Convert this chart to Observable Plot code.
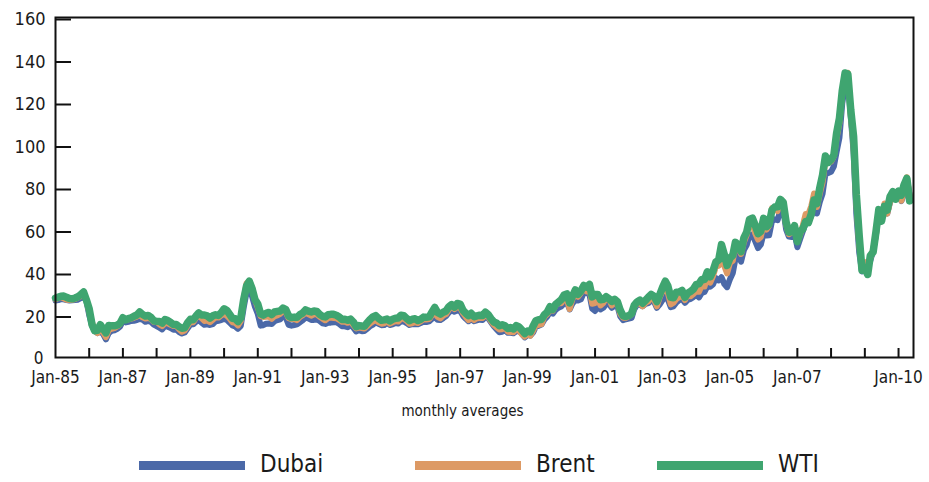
<!DOCTYPE html>
<html>
<head>
<meta charset="utf-8">
<script src="https://cdn.jsdelivr.net/npm/d3@7"></script>
<script src="https://cdn.jsdelivr.net/npm/@observablehq/plot@0.6"></script>
<style>
  html, body { margin: 0; padding: 0; background: #fff; }
  body { width: 929px; height: 482px; overflow: hidden; font-family: "DejaVu Sans Condensed", "DejaVu Sans", sans-serif; font-stretch: condensed; }
  #legend { position: relative; width: 929px; height: 42px; }
  .sw { position: absolute; top: 21px; height: 9px; width: 106px; }
  .lb { position: absolute; top: 9px; font-size: 24px; color: #1a1a1a; line-height: 30px; }
</style>
</head>
<body>
<div id="chart"></div>
<div id="legend"></div>
<script>
// ---- data: monthly averages, US$/bbl, Jan 1985 .. May 2010 ----
const startYear = 1985;
const seriesNames = ["Dubai", "Brent", "WTI"];
const seriesColors = ["#4b69a8", "#dd9a65", "#3fa570"];

const dubai = [
  26.8,27.0,27.4,27.4,27.0,26.8,26.9,27.0,27.2,27.9,28.4,26.8,
  20.0,15.0,12.5,11.5,12.5,11.0,8.5,11.5,12.5,12.8,13.5,14.5,
  17.2,16.5,16.8,17.2,17.3,17.6,18.2,17.8,16.8,17.2,16.8,15.5,
  14.8,14.0,13.2,14.9,14.5,13.9,13.1,13.2,12.0,11.3,11.8,13.6,
  15.5,15.6,16.8,17.6,16.4,15.4,15.6,15.3,15.7,17.0,17.3,17.6,
  18.2,17.6,16.5,15.1,14.6,13.5,14.9,23.4,30.5,32.6,28.6,23.9,
  20.5,15.0,15.2,15.9,16.0,15.8,17.0,17.6,18.0,19.6,18.7,15.4,
  15.0,15.3,15.6,16.6,17.5,18.8,18.4,17.7,17.7,17.9,17.2,16.1,
  15.8,16.4,16.4,16.6,16.6,15.8,14.7,14.7,14.3,15.4,14.0,12.3,
  12.8,12.4,12.5,13.6,14.7,15.5,16.5,15.9,15.2,15.3,16.3,15.3,
  15.6,16.2,16.0,17.0,17.0,16.2,15.3,15.7,15.8,15.6,16.2,16.8,
  16.7,17.0,18.2,19.0,17.8,17.6,18.5,19.5,21.2,22.3,21.5,22.3,
  21.9,19.6,18.3,17.1,18.0,17.1,17.5,17.8,17.7,19.1,18.5,16.6,
  14.7,13.2,11.9,12.1,12.9,11.6,11.6,11.4,12.3,12.5,11.1,9.5,
  10.6,10.3,11.7,14.6,14.9,15.5,17.8,19.2,21.3,20.6,22.5,23.4,
  24.0,25.4,26.2,22.6,25.4,27.0,26.8,27.4,30.6,30.4,29.8,23.0,
  21.9,24.0,22.6,23.4,25.2,25.2,23.4,24.3,24.0,19.3,17.6,18.0,
  18.3,18.7,22.6,24.9,24.8,24.1,25.2,25.6,26.7,26.4,23.4,24.9,
  27.0,28.6,27.3,23.7,24.1,25.9,27.0,27.6,25.7,27.1,27.6,28.4,
  29.4,28.3,30.4,30.9,33.5,33.3,34.4,37.4,36.3,37.8,34.6,33.1,
  36.8,39.8,46.4,48.1,45.1,50.5,52.9,57.6,57.9,54.8,51.5,53.1,
  58.6,57.4,57.5,64.2,65.0,64.6,69.4,69.7,60.3,56.9,56.7,58.6,
  51.9,55.9,59.4,63.2,64.6,66.6,70.0,67.8,73.2,77.0,86.4,86.8,
  87.4,90.0,96.7,103.4,119.5,128.0,131.2,113.4,96.8,67.4,49.5,40.5,
  43.9,43.1,45.6,50.1,57.5,68.8,65.0,71.5,67.8,73.2,77.7,75.5,
  76.6,73.6,77.1,84.0,76.4
];

const brent = [
  27.4,28.0,28.4,27.8,27.2,27.0,27.2,27.5,28.2,28.8,29.7,27.2,
  21.5,16.5,12.9,11.5,13.9,11.7,9.6,12.9,13.5,13.8,14.6,15.8,
  18.6,17.7,17.9,18.3,18.7,19.2,19.9,18.9,18.3,18.7,18.1,16.8,
  16.8,15.6,14.8,16.2,16.1,15.4,14.8,14.9,13.3,12.1,12.7,14.8,
  16.9,16.6,18.5,20.3,18.5,17.2,17.4,16.6,17.8,18.9,18.8,19.8,
  20.6,19.6,18.4,16.6,16.3,15.1,17.2,27.2,34.9,36.0,32.7,27.2,
  23.6,19.5,19.1,19.2,19.2,18.2,19.4,19.8,20.5,22.1,21.2,18.5,
  18.1,18.0,17.6,19.1,19.9,21.1,20.4,19.7,20.3,20.3,19.2,18.3,
  17.5,18.5,18.8,18.6,18.5,17.7,16.8,16.8,16.3,16.9,15.3,13.7,
  14.1,13.9,13.6,14.8,16.0,16.9,17.6,16.6,15.9,16.1,17.4,15.9,
  16.6,17.1,16.9,18.3,18.2,17.3,15.9,16.1,16.6,16.2,17.1,18.0,
  17.9,18.1,19.9,21.1,19.1,18.4,19.7,20.4,22.6,24.2,22.8,23.8,
  23.5,20.8,19.2,17.6,18.6,17.6,18.5,18.6,18.6,20.1,19.1,17.1,
  15.3,14.2,13.2,13.3,14.3,12.1,12.0,11.9,13.4,12.6,10.9,9.8,
  11.1,10.3,12.5,15.3,15.3,15.7,19.1,20.3,22.5,22.0,24.6,25.5,
  25.5,27.8,27.5,22.8,27.6,29.8,28.6,30.4,32.9,31.1,32.6,25.3,
  25.6,27.5,24.5,25.7,28.4,27.7,24.5,25.8,25.8,20.5,18.7,18.6,
  19.4,20.3,23.7,25.7,25.4,24.1,25.7,26.4,28.3,27.5,24.1,28.2,
  31.2,32.8,30.3,25.0,25.8,27.6,28.4,29.8,27.0,29.6,28.8,29.8,
  31.2,30.9,33.8,33.4,37.9,35.2,38.2,42.7,43.2,49.8,43.1,39.6,
  44.5,45.5,53.1,51.9,48.7,54.3,57.6,64.1,62.9,58.5,55.5,56.7,
  62.9,60.2,62.1,70.3,70.0,68.9,73.7,73.2,62.5,58.0,58.8,62.2,
  54.6,57.8,62.1,67.5,67.5,71.3,77.2,70.8,77.1,82.3,92.5,91.5,
  92.2,94.8,103.3,110.4,124.6,133.5,134.0,114.6,99.6,72.7,53.2,41.6,
  44.9,43.1,46.8,50.9,57.9,68.6,64.9,72.5,67.7,73.2,77.0,74.7,
  76.2,73.8,78.8,84.8,75.9
];

const wti = [
  28.0,28.4,28.8,28.9,28.3,27.8,27.6,28.0,28.6,29.6,30.8,27.2,
  22.9,15.4,12.6,12.8,15.4,13.5,11.6,15.1,14.9,14.9,15.2,16.1,
  18.7,17.7,18.3,18.7,19.4,20.0,21.4,20.3,19.5,19.8,18.9,17.3,
  17.0,16.9,16.2,17.9,17.4,16.5,15.5,15.5,14.5,13.8,14.0,16.3,
  18.0,17.8,19.4,21.0,20.0,20.0,19.6,18.5,19.6,20.1,19.8,21.1,
  22.9,22.1,20.4,18.4,18.2,16.9,18.6,27.2,33.7,35.9,32.3,27.3,
  25.2,20.5,19.9,20.8,21.2,20.2,21.4,21.7,21.9,23.2,22.5,19.5,
  18.8,19.0,18.9,20.2,20.9,22.4,21.8,21.4,21.9,21.7,20.3,19.4,
  19.1,20.1,20.3,20.3,19.9,19.1,17.9,18.0,17.5,18.1,16.7,14.5,
  15.0,14.8,14.7,16.4,17.9,19.1,19.7,18.4,17.5,17.7,18.1,17.2,
  18.0,18.5,18.6,19.9,19.7,18.4,17.3,18.0,18.2,17.4,18.0,19.0,
  18.9,19.1,21.3,23.5,21.2,20.4,21.3,21.9,23.9,24.9,23.7,25.4,
  25.1,22.2,20.9,19.7,20.8,19.2,19.6,19.9,19.8,21.3,20.2,18.3,
  16.7,16.1,15.0,15.4,14.9,13.7,14.1,13.4,15.0,14.4,12.9,11.3,
  12.5,12.0,14.7,17.3,17.8,17.9,20.1,21.3,23.9,22.6,25.0,26.1,
  27.2,29.4,29.9,25.7,28.8,31.8,29.7,31.3,33.9,33.1,34.4,28.5,
  29.6,29.6,27.2,27.4,28.6,27.6,26.4,27.4,26.2,22.2,19.6,19.3,
  19.7,20.7,24.5,26.2,27.0,25.5,26.9,28.4,29.7,28.9,26.3,29.4,
  32.9,35.9,33.6,28.3,28.1,30.7,30.8,31.6,28.3,30.3,31.1,32.1,
  34.3,34.7,36.7,36.7,40.3,38.0,40.7,44.9,45.9,53.1,48.5,43.3,
  46.8,48.1,54.2,53.0,49.8,56.3,59.0,65.0,65.6,62.3,58.3,59.4,
  65.5,61.6,62.7,69.4,70.8,70.9,74.4,73.0,63.8,58.9,59.1,62.0,
  54.5,59.3,60.4,64.0,63.5,67.5,74.1,72.4,79.9,85.8,94.8,91.7,
  93.0,95.4,105.5,112.6,125.4,133.9,133.4,116.7,104.1,76.6,57.3,41.1,
  41.7,39.1,47.9,49.7,59.0,69.6,64.2,71.1,69.4,75.7,78.0,74.5,
  78.3,76.4,81.2,84.3,73.7
];

const yTickValues = [0, 20, 40, 60, 80, 100, 120, 140, 160];
const xTickYears = [1985,1986,1987,1988,1989,1990,1991,1992,1993,1994,1995,1996,1997,
                    1998,1999,2000,2001,2002,2003,2004,2005,2006,2007,2008,2009,2010];
const xLabelYears = [1985,1987,1989,1991,1993,1995,1997,1999,2001,2003,2005,2007,2010];
const xLabels = ["Jan-85","Jan-87","Jan-89","Jan-91","Jan-93","Jan-95","Jan-97","Jan-99",
                 "Jan-01","Jan-03","Jan-05","Jan-07","Jan-10"];
const xAxisTitle = "monthly averages";

// ---- build table ----
const monthDate = i => new Date(Date.UTC(startYear, i, 1));
const seriesValues = [dubai, brent, wti];
const rows = seriesNames.flatMap((name, s) =>
  seriesValues[s].map((v, i) => ({series: name, date: monthDate(i), value: v})));
const yearDate = y => new Date(Date.UTC(y, 0, 1));
const labelMap = new Map(xLabelYears.map((y, i) => [y, xLabels[i]]));

const W = 929, H = 440, mL = 55, mR = 16, mT = 17, mB = 83;
const font = `"DejaVu Sans Condensed", "DejaVu Sans", sans-serif`;

const chart = Plot.plot({
  width: W, height: H,
  marginLeft: mL, marginRight: mR, marginTop: mT, marginBottom: mB,
  style: {fontFamily: font, fontSize: "17px", color: "#1a1a1a", background: "#fff", fontStretch: "condensed"},
  x: {type: "utc", domain: [yearDate(1985), new Date(Date.UTC(2010, 5, 12))]},
  y: {domain: [0, 160]},
  marks: [
    Plot.line(rows.filter(d => d.series === "Dubai"), {x: "date", y: "value", stroke: seriesColors[0], strokeWidth: 6, strokeLinejoin: "round"}),
    Plot.line(rows.filter(d => d.series === "Brent"), {x: "date", y: "value", stroke: seriesColors[1], strokeWidth: 6, strokeLinejoin: "round"}),
    Plot.line(rows.filter(d => d.series === "WTI"), {x: "date", y: "value", stroke: seriesColors[2], strokeWidth: 7.5, strokeLinejoin: "round"}),
    // inward-pointing tick marks
    Plot.axisY(yTickValues.slice(1), {tickSize: -16, tickPadding: 26, strokeWidth: 2, stroke: "#111", fontSize: 18, dy: 2, label: null}),
    Plot.axisY([0], {tickSize: 0, tickPadding: 12, fontSize: 17, dy: 1, label: null}),
    Plot.axisX(xTickYears.slice(1).map(yearDate), {tickSize: -9, strokeWidth: 2, stroke: "#111", tickFormat: () => "", label: null}),
    Plot.axisX(xLabelYears.map(yearDate), {tickSize: 0, tickPadding: 13, fontSize: 17,
      tickFormat: d => labelMap.get(d.getUTCFullYear()), label: null}),
    Plot.frame({stroke: "#111", strokeWidth: 2}),
    Plot.text([xAxisTitle], {frameAnchor: "bottom", dy: 58, dx: -22, fontSize: 15, fill: "#1a1a1a"})
  ]
});
document.getElementById("chart").appendChild(chart);

// ---- legend ----
const legend = document.getElementById("legend");
const swLeft = [139, 415, 657];
seriesNames.forEach((name, i) => {
  const sw = document.createElement("div");
  sw.className = "sw";
  sw.style.left = swLeft[i] + "px";
  sw.style.background = seriesColors[i];
  legend.appendChild(sw);
  const lb = document.createElement("div");
  lb.className = "lb";
  lb.style.left = (swLeft[i] + 121) + "px";
  lb.textContent = name;
  legend.appendChild(lb);
});
</script>
</body>
</html>
